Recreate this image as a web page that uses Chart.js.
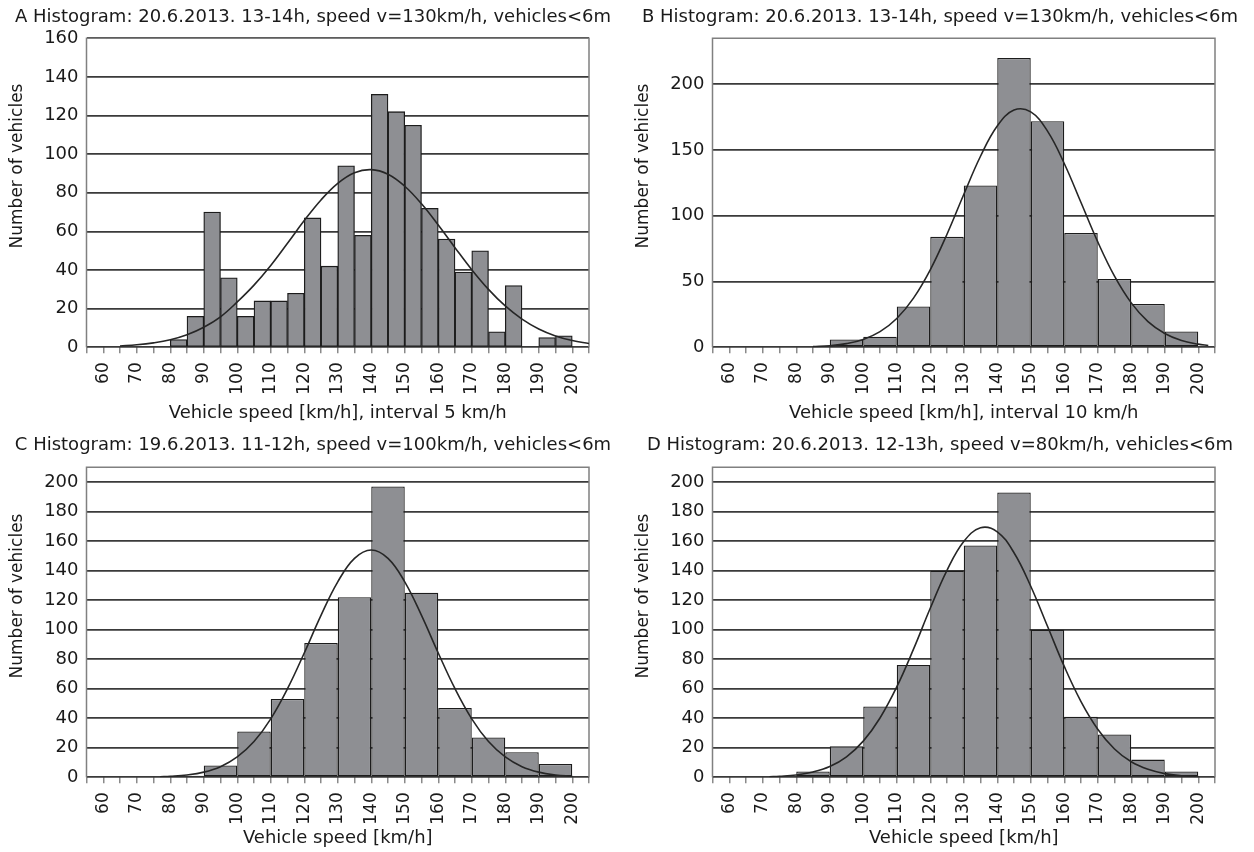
<!DOCTYPE html>
<html>
<head>
<meta charset="utf-8">
<title>Vehicle speed histograms</title>
<script src="https://cdn.jsdelivr.net/npm/chart.js@4.4.1/dist/chart.umd.min.js"></script>
<style>
  body { margin: 0; background: #fff; }
  #wrap { position: relative; width: 1254px; height: 852px; overflow: hidden; }
  #wrap canvas { position: absolute; }
</style>
</head>
<body>
<div id="wrap">
  <canvas id="chartA" width="626" height="430" style="left:0;top:0"></canvas>
  <canvas id="chartB" width="628" height="430" style="left:626px;top:0"></canvas>
  <canvas id="chartC" width="626" height="422" style="left:0;top:430px"></canvas>
  <canvas id="chartD" width="628" height="422" style="left:626px;top:430px"></canvas>
</div>
<script>
// ---- data ----
const titleA = 'A Histogram: 20.6.2013. 13-14h, speed v=130km/h, vehicles<6m';
const titleB = 'B Histogram: 20.6.2013. 13-14h, speed v=130km/h, vehicles<6m';
const titleC = 'C Histogram: 19.6.2013. 11-12h, speed v=100km/h, vehicles<6m';
const titleD = 'D Histogram: 20.6.2013. 12-13h, speed v=80km/h, vehicles<6m';

const xTitleA = 'Vehicle speed [km/h], interval 5 km/h';
const xTitleB = 'Vehicle speed [km/h], interval 10 km/h';
const xTitleCD = 'Vehicle speed [km/h]';
const yTitle = 'Number of vehicles';

// bin lower edges (km/h)
const bins5 = [55, 60, 65, 70, 75, 80, 85, 90, 95, 100, 105, 110, 115, 120, 125,
               130, 135, 140, 145, 150, 155, 160, 165, 170, 175, 180, 185, 190, 195, 200];
const bins10 = [60, 70, 80, 90, 100, 110, 120, 130, 140, 150, 160, 170, 180, 190];

const countsA = [0, 0, 0, 0, 0, 4, 16, 70, 36, 16, 24, 24, 28, 67, 42,
                 94, 58, 131, 122, 115, 72, 56, 39, 50, 8, 32, 0, 5, 6, 0];
const countsB = [0, 0, 0, 6, 8, 31, 84, 123, 220, 172, 87, 52, 33, 12];
const countsC = [0, 0, 1, 8, 31, 53, 91, 122, 197, 125, 47, 27, 17, 9];
const countsD = [0, 0, 4, 21, 48, 76, 140, 157, 193, 100, 41, 29, 12, 4];

// fitted curves
const curveXA = [65, 70, 75, 80, 85, 90, 95, 100, 105, 110, 115, 120, 125, 130, 135,
                 140, 145, 150, 155, 160, 165, 170, 175, 180, 185, 190, 195, 200, 205];
const curveYA = [0.7, 1.3, 2.3, 3.9, 6.5, 10.4, 15.8, 23.5, 32.2, 42.4, 53.9, 65.6, 76.3, 84.9, 90.4,
                 92.0, 89.6, 83.4, 74.3, 63.3, 51.6, 40.2, 30.0, 21.4, 14.6, 9.5, 5.9, 3.5, 2.0];

const curveXB = [85, 90, 95, 100, 105, 110, 115, 120, 125, 130, 135, 140, 145, 150,
                 155, 160, 165, 170, 175, 180, 185, 190, 195, 200, 203];
const curveYB = [0.5, 1.2, 2.8, 6.0, 11.9, 21.9, 37.4, 58.9, 86.0, 116.2, 145.3, 168.3, 180.4, 179.0,
                 164.4, 139.8, 110.1, 80.2, 54.1, 33.8, 19.5, 10.5, 5.2, 2.4, 1.4];

const curveXC = [77, 80, 85, 90, 95, 100, 105, 110, 115, 120, 125, 130, 135, 140,
                 145, 150, 155, 160, 165, 170, 175, 180, 185, 190, 195, 200];
const curveYC = [0.4, 0.7, 1.6, 3.5, 7.2, 13.8, 24.2, 39.6, 60.0, 84.2, 109.7, 132.4, 148.3, 154.0,
                 148.3, 132.4, 109.7, 84.2, 60.0, 39.6, 24.2, 13.8, 7.2, 3.5, 1.6, 0.7];

const curveXD = [72, 75, 80, 85, 90, 95, 100, 105, 110, 115, 120, 125, 130, 135,
                 140, 145, 150, 155, 160, 165, 170, 175, 180, 185, 190, 195, 200];
const curveYD = [0.4, 0.7, 1.6, 3.6, 7.3, 13.9, 24.5, 40.2, 61.2, 86.8, 114.5, 140.2, 159.7, 169.0,
                 166.3, 152.1, 129.4, 102.3, 75.1, 51.3, 32.6, 19.2, 10.5, 5.4, 2.5, 1.1, 0.5];

// ---- styling ----
const TEXT = '#1a1a1a';
const BAR = '#8e8f93';
const EDGE = '#1c1c1c';
const LINE = '#262626';
Chart.defaults.font.family = '"DejaVu Sans", sans-serif';
Chart.defaults.color = TEXT;

// layout of the two rows (pixels inside each canvas)
const topRow = { titleTop: 6.2, titleBottom: 10.5, xAxisHeight: 82.7, xTitleBottom: 6.2, yTitleY: 166 };
const bottomRow = { titleTop: 4.2, titleBottom: 11.5, xAxisHeight: 74.7, xTitleBottom: 3.0, yTitleY: 166 };

// gray frame on left, top and right of the plot area
const framePlugin = {
  id: 'frame',
  beforeDatasetsDraw(chart) {
    const { ctx, chartArea: a } = chart;
    ctx.save();
    ctx.strokeStyle = '#808080';
    ctx.lineWidth = 1.5;
    ctx.beginPath();
    ctx.moveTo(a.left, a.bottom);
    ctx.lineTo(a.left, a.top);
    ctx.lineTo(a.right, a.top);
    ctx.lineTo(a.right, a.bottom);
    ctx.stroke();
    ctx.restore();
  }
};

// vertical axis title, centred like the original (a bit above the plot centre)
const sideTitlePlugin = {
  id: 'sideTitle',
  afterDraw(chart, args, opts) {
    const ctx = chart.ctx;
    ctx.save();
    ctx.translate(opts.x, opts.y);
    ctx.rotate(-Math.PI / 2);
    ctx.font = '17px "DejaVu Sans", sans-serif';
    ctx.fillStyle = TEXT;
    ctx.textAlign = 'center';
    ctx.textBaseline = 'middle';
    ctx.fillText(opts.text, 0, 0);
    ctx.restore();
  }
};

function makeHistogram(id, cfg) {
  const row = cfg.row;
  const bars = cfg.binStart.map((s, i) => ({ x: s + cfg.binWidth / 2, y: cfg.counts[i] }));
  const curve = cfg.curveX.map((x, i) => ({ x: x, y: cfg.curveY[i] }));

  return new Chart(document.getElementById(id), {
    type: 'bar',
    data: {
      datasets: [
        {
          type: 'line',
          data: curve,
          borderColor: LINE,
          borderWidth: 1.6,
          pointRadius: 0,
          tension: 0.4,
          fill: false,
          order: 0
        },
        {
          type: 'bar',
          data: bars,
          backgroundColor: BAR,
          borderColor: EDGE,
          borderWidth: 1.3,
          borderSkipped: false,
          barPercentage: 1,
          // ticks sit every 5 km/h, so wider bins need a larger share
          categoryPercentage: cfg.binWidth / 5,
          order: 1
        }
      ]
    },
    options: {
      responsive: false,
      animation: false,
      events: [],
      layout: { padding: 0 },
      plugins: {
        legend: { display: false },
        tooltip: { enabled: false },
        title: {
          display: true,
          text: cfg.title,
          color: TEXT,
          font: { size: 18, weight: 'normal' },
          padding: { top: row.titleTop, bottom: row.titleBottom }
        },
        sideTitle: { text: yTitle, x: 18, y: row.yTitleY }
      },
      scales: {
        x: {
          type: 'linear',
          min: 55,
          max: 205,
          offset: false,
          grid: { offset: false, drawOnChartArea: false, drawTicks: true, tickLength: 6, color: '#8a8a8a', lineWidth: 1.5 },
          border: { display: false },
          ticks: {
            stepSize: 5,
            autoSkip: false,
            minRotation: 90,
            maxRotation: 90,
            padding: 9,
            color: TEXT,
            font: { size: 17 },
            callback: v => (v % 10 === 0 && v >= 60 && v <= 200) ? String(v) : ''
          },
          title: {
            display: true,
            text: cfg.xTitle,
            color: TEXT,
            font: { size: 18 },
            padding: { top: 0, bottom: row.xTitleBottom }
          },
          afterFit: s => { s.height = row.xAxisHeight; }
        },
        y: {
          min: 0,
          max: cfg.yMax,
          grid: { color: '#3a3a3a', lineWidth: 1.8, drawTicks: false },
          border: { display: false },
          ticks: { stepSize: cfg.yStep, includeBounds: false, padding: 8, color: TEXT, font: { size: 18 } },
          afterFit: s => { s.width = 86.5; }
        },
        y2: {
          type: 'linear',
          position: 'right',
          grid: { display: false, drawTicks: false },
          border: { display: false },
          ticks: { display: false },
          afterFit: s => { s.width = cfg.rightSpace; }
        }
      }
    },
    plugins: [framePlugin, sideTitlePlugin]
  });
}

makeHistogram('chartA', {
  row: topRow, title: titleA, xTitle: xTitleA, yMax: 160, yStep: 20, rightSpace: 37,
  binStart: bins5, binWidth: 5, counts: countsA, curveX: curveXA, curveY: curveYA
});
makeHistogram('chartB', {
  row: topRow, title: titleB, xTitle: xTitleB, yMax: 235, yStep: 50, rightSpace: 39,
  binStart: bins10, binWidth: 10, counts: countsB, curveX: curveXB, curveY: curveYB
});
makeHistogram('chartC', {
  row: bottomRow, title: titleC, xTitle: xTitleCD, yMax: 210, yStep: 20, rightSpace: 37,
  binStart: bins10, binWidth: 10, counts: countsC, curveX: curveXC, curveY: curveYC
});
makeHistogram('chartD', {
  row: bottomRow, title: titleD, xTitle: xTitleCD, yMax: 210, yStep: 20, rightSpace: 39,
  binStart: bins10, binWidth: 10, counts: countsD, curveX: curveXD, curveY: curveYD
});
</script>
</body>
</html>
